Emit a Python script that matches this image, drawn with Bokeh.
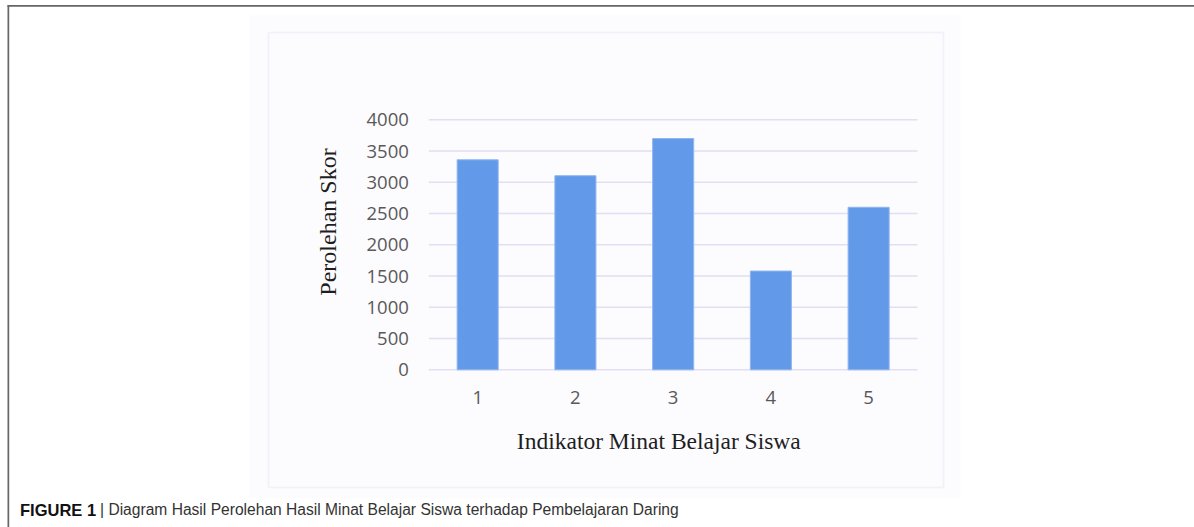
from math import pi
from bokeh.plotting import figure
from bokeh.models import BoxAnnotation, Label, FixedTicker, LinearAxis, Range1d
from bokeh.embed import file_html
from bokeh.resources import INLINE

# ---- data ----
categories = ["1", "2", "3", "4", "5"]
scores = [3360, 3105, 3700, 1580, 2600]
y_ticks = [0, 500, 1000, 1500, 2000, 2500, 3000, 3500, 4000]
x_title = "Indikator Minat Belajar Siswa"
y_title = "Perolehan Skor"
caption_bold = "FIGURE 1"
caption_text = "| Diagram Hasil Perolehan Hasil Minat Belajar Siswa terhadap Pembelajaran Daring"

positions = list(range(1, len(categories) + 1))

# ---- layout (page pixels) ----
W, H = 1194, 527
PL, PR = 428.3, 917.0      # plot area left / right on the page
Y0, Y4000 = 369.3, 119.3   # page y of value 0 and value 4000
ux = (PR - PL) / len(categories)
uy = (Y0 - Y4000) / 4000.0
x_start = 0.5 - PL / ux
x_end = 0.5 + (W - PL) / ux
y_end = 4000 + Y4000 / uy
y_start = -(H - Y0) / uy


def sx(X):
    return X


def sy(Y):
    return H - Y


p = figure(
    width=W, height=H,
    x_range=Range1d(x_start, x_end), y_range=Range1d(y_start, y_end),
    x_axis_location=None, y_axis_location=None,
    output_backend="svg", toolbar_location=None, min_border=0,
)
p.background_fill_color = "white"
p.border_fill_color = "white"
p.outline_line_color = None
p.xgrid.visible = False
p.ygrid.visible = False


def screen_box(l, r, t, b, **kw):
    return BoxAnnotation(left=sx(l), right=sx(r), top=sy(t), bottom=sy(b),
                         left_units="screen", right_units="screen",
                         top_units="screen", bottom_units="screen", **kw)


# decorations: page frame lines, chart background and chart border
p.add_layout(screen_box(249, 960, 15, 497, fill_color="#fcfbfe", fill_alpha=1,
                        line_color=None, level="image"))
p.add_layout(screen_box(268, 943, 32, 487, fill_alpha=0, line_color="#dcd8ef",
                        line_width=1.6, level="image"))
p.add_layout(screen_box(7, 1194, 4.6, 6.3, fill_color="#666666", fill_alpha=1,
                        line_color=None))
p.add_layout(screen_box(7, 8.7, 4.6, 527, fill_color="#666666", fill_alpha=1,
                        line_color=None))

# horizontal gridlines across the plot area
p.segment(x0=[0.5] * len(y_ticks), x1=[len(categories) + 0.5] * len(y_ticks),
          y0=y_ticks, y1=y_ticks, line_color="#e2dff2", line_width=1.6)

# bars
p.vbar(x=positions, top=scores, bottom=0, width=0.42,
       fill_color="#6399e9", line_color="#90b5f0", line_width=1)

# axes fixed at the plot-area edges
xaxis = LinearAxis(fixed_location=0, ticker=FixedTicker(ticks=positions),
                   major_label_overrides={pos: c for pos, c in zip(positions, categories)},
                   bounds=(0.5, len(categories) + 0.5))
yaxis = LinearAxis(fixed_location=0.5, ticker=FixedTicker(ticks=y_ticks),
                   bounds=(0, 4000))
for ax in (xaxis, yaxis):
    ax.axis_line_color = None
    ax.major_tick_line_color = None
    ax.minor_tick_line_color = None
    ax.major_tick_out = 0
    ax.major_tick_in = 0
    ax.major_label_text_font = "Open Sans"
    ax.major_label_text_font_size = "18.5px"
    ax.major_label_text_color = "#595959"
yaxis.major_label_standoff = 20
xaxis.major_label_standoff = 21
p.add_layout(xaxis, "below")
p.add_layout(yaxis, "left")

# axis titles
p.add_layout(Label(x=sx(658.3), y=sy(440.0), x_units="screen", y_units="screen",
                   text=x_title, text_font="Liberation Serif", text_font_size="23.5px",
                   text_color="#1e1e1e", text_align="center", text_baseline="alphabetic"))
p.add_layout(Label(x=sx(327), y=sy(221.5), x_units="screen", y_units="screen",
                   text=y_title, text_font="Liberation Serif", text_font_size="24px",
                   text_color="#1e1e1e", text_align="center", text_baseline="alphabetic",
                   angle=pi / 2))

# caption
p.add_layout(Label(x=sx(19.5), y=sy(509), x_units="screen", y_units="screen",
                   text=caption_bold, text_font="Liberation Sans",
                   text_font_style="bold", text_font_size="16.5px",
                   text_color="#111111", text_align="left", text_baseline="alphabetic"))
p.add_layout(Label(x=sx(99.5), y=sy(509), x_units="screen", y_units="screen",
                   text=caption_text, text_font="Liberation Sans",
                   text_font_size="15.6px",
                   text_color="#333333", text_align="left", text_baseline="alphabetic"))

open("out.html", "w").write(file_html(p, INLINE))
